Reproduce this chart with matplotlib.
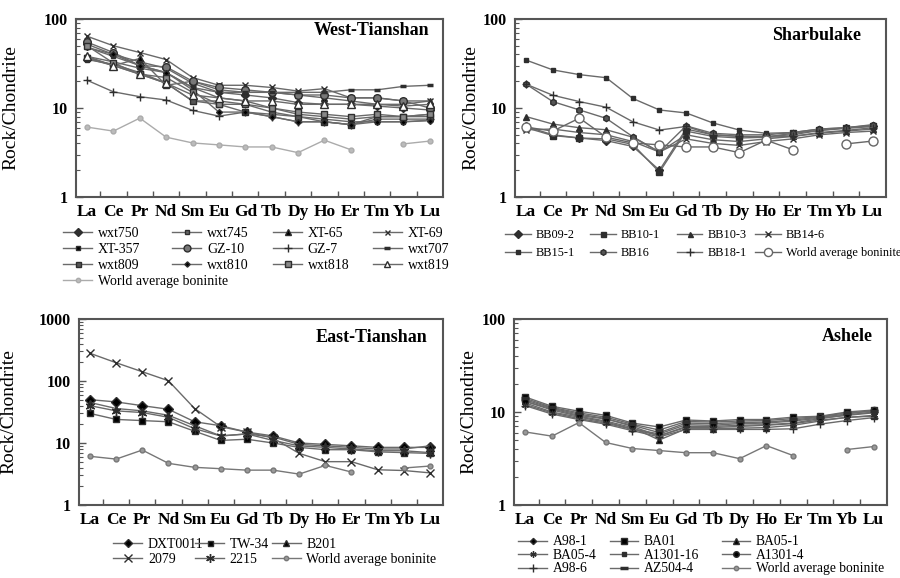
import numpy as np
import matplotlib
matplotlib.use("Agg")
import matplotlib.pyplot as plt
from matplotlib.legend import Legend
from matplotlib.ticker import LogLocator, FixedLocator, NullFormatter, FuncFormatter

# ========================
# Datos (Roca / Condrita)
# ========================

ELEMENTOS = ["La", "Ce", "Pr", "Nd", "Sm", "Eu", "Gd", "Tb", "Dy", "Ho", "Er", "Tm", "Yb", "Lu"]
BONINITA = [6.1, 5.5, 7.7, 4.7, 4.05, 3.85, 3.65, 3.65, 3.15, 4.35, 3.4, np.nan, 3.95, 4.25]

# West-Tianshan
wt_nombres = ["wxt750", "wxt745", "XT-65", "XT-69", "XT-357", "GZ-10",
              "GZ-7", "wxt707", "wxt809", "wxt810", "wxt818", "wxt819"]
wt_valores = [
    [52, 40, 33, 28, 19, 15, 14, 13, 11.5, 11, 11, 10.5, 10, 9.5],
    [48, 38, 30, 25, 17, 13, 12, 10, 8.5, 8, 7.5, 8, 8, 8.5],
    [37, 30, 36, 18, 20, 16, 15, 15, 14, 13, 12, 11, 11, 12],
    [64, 50, 42, 35, 22, 18, 18, 17, 15.5, 16.5, 13, 13, 12, 12],
    [35, 31, 25, 19, 12, 12, 11, 9, 8, 7.5, 7, 7, 7, 7.3],
    [55, 42, 30, 29, 20, 17, 16, 15, 14, 14, 13, 13, 12, 10],
    [20.5, 15.2, 13.4, 12.3, 9.4, 8.1, 9, 8, 7, 7, 6.5, 7.5, 7.5, 7.5],
    [38, 33, 28, 25, 17, 15, 15, 15, 15, 15, 16, 16, 17.5, 18],
    [36, 30, 24, 19, 12, 11, 9, 8.5, 8, 7, 6.5, 8, 8, 8],
    [48, 40, 30, 25, 16, 9, 9, 8, 7, 7, 6.5, 7, 7, 7.2],
    [50, 32, 24, 22, 15, 11, 11, 10, 9, 8.5, 8, 8.5, 8, 8.5],
    [38, 30, 24, 19, 14, 13, 12, 12, 11, 11, 11, 11, 10.5, 11],
]

# Sharbulake
sb_nombres = ["BB09-2", "BB10-1", "BB10-3", "BB14-6", "BB15-1", "BB16", "BB18-1"]
sb_valores = [
    [6.2, 5.0, 4.6, 4.3, 3.7, 2.0, 5.8, 5.0, 4.8, 4.8, 5.0, 5.6, 6.0, 6.3],
    [6.0, 4.9, 4.6, 4.5, 3.9, 1.9, 5.5, 4.8, 4.6, 4.7, 5.2, 5.6, 5.9, 6.2],
    [8.0, 6.6, 6.0, 5.7, 4.7, 3.2, 5.0, 4.4, 4.2, 4.5, 4.8, 5.2, 5.5, 5.8],
    [5.7, 5.8, 5.3, 5.0, 4.2, 3.2, 4.5, 4.0, 3.8, 4.2, 4.5, 5.0, 5.3, 5.5],
    [34.5, 26.8, 23.7, 21.9, 12.8, 9.5, 8.8, 6.8, 5.65, 5.2, 5.3, 5.8, 6.0, 6.5],
    [18.5, 11.8, 9.5, 7.65, 4.76, 3.2, 6.3, 5.2, 5.0, 5.0, 5.3, 5.8, 6.0, 6.4],
    [18.5, 13.9, 11.8, 10.2, 7.0, 5.65, 6.2, 5.0, 4.8, 4.7, 4.8, 5.3, 5.6, 6.0],
]

# East-Tianshan
et_nombres = ["DXT0011", "TW-34", "B201", "2079", "2215"]
et_valores = [
    [50, 46, 40, 35, 22, 19, 15, 13, 10, 9.5, 9, 8.5, 8.5, 8.5],
    [30, 24, 23, 22, 15.5, 11, 11.5, 10, 8.5, 7.8, 7.8, 7.2, 7.0, 6.8],
    [45, 36, 33, 28, 19, 13, 14, 12.5, 9.5, 9, 8.5, 8, 8, 9],
    [280, 197, 141, 101, 36, 18.3, 15, 12, 6.8, 5.0, 5.0, 3.7, 3.6, 3.3],
    [40, 33, 31, 26, 17, 13, 14, 11, 9, 8.5, 8, 7.5, 7.5, 7],
]

# Ashele
as_nombres = ["A98-1", "BA01", "BA05-1", "BA05-4", "A1301-16", "A1301-4", "A98-6", "AZ504-4"]
as_valores = [
    [13.5, 11, 9.5, 8.5, 7.0, 5.5, 7.0, 7.0, 7.2, 7.3, 7.6, 8.5, 9.3, 10.0],
    [14.5, 11.5, 10.2, 9.2, 7.6, 6.9, 8.2, 8.0, 8.3, 8.3, 8.8, 9.0, 10.0, 10.5],
    [13.0, 10.5, 9.0, 8.0, 6.8, 5.0, 6.6, 6.6, 6.7, 6.8, 7.2, 8.0, 8.8, 9.0],
    [12.0, 9.8, 8.5, 7.6, 6.5, 5.6, 6.8, 6.8, 7.0, 7.2, 7.5, 8.2, 8.7, 9.2],
    [12.5, 10.0, 8.8, 7.8, 6.6, 5.8, 7.3, 7.2, 7.5, 7.6, 8.0, 8.6, 9.2, 9.8],
    [13.0, 10.8, 9.2, 8.4, 7.2, 6.0, 7.6, 7.5, 7.7, 7.8, 8.2, 8.8, 9.5, 10.4],
    [11.7, 9.5, 8.3, 7.4, 6.3, 5.4, 6.5, 6.5, 6.5, 6.5, 6.6, 7.4, 8.1, 8.7],
    [14.0, 11.2, 9.8, 8.8, 7.4, 6.4, 7.9, 7.8, 8.0, 8.1, 8.5, 8.9, 9.8, 10.2],
]

# ========================
# Estilos
# ========================

SERIF = ["Liberation Serif", "DejaVu Serif"]
LINEA = "#6a6a6a"
MARCA = "#2e2e2e"
ASTER = (6, 2, 0)

wt_marcas = [("D", 4, MARCA), ("s", 3.5, "#666"), ("^", 5, "black"), ("x", 4, MARCA),
             ("s", 2.5, "black"), ("o", 5.5, "#777"), ("+", 6, MARCA), ("_", 5, "black"),
             ("s", 4, "#555"), ("D", 3, "black"), ("s", 4.5, "#888"), ("^", 5.5, "white")]
sb_marcas = [("D", 4, MARCA), ("s", 4, MARCA), ("^", 4, MARCA), ("x", 5, MARCA),
             ("s", 2.5, MARCA), ("h", 4.5, "#555"), ("+", 6, MARCA)]
et_marcas = [("D", 5, "black"), ("s", 4, "black"), ("^", 4.5, "black"),
             ("x", 6, MARCA), (ASTER, 7, MARCA)]
as_marcas = [("D", 3.5, "black"), ("s", 5, "black"), ("^", 4.5, "black"), (ASTER, 5, MARCA),
             ("s", 2.5, MARCA), ("o", 4.5, "black"), ("+", 6, MARCA), ("_", 6, "black")]


def formato_y(v, pos):
    return f"{v:g}"


def dibujar_panel(ax, titulo, nombres, valores, marcas, ymax, bon_estilo,
                  pos_titulo, xs_leyenda, y_leyenda, ncol, espacio, tam_leyenda=10):
    x = np.arange(len(ELEMENTOS))
    handles = []
    for nombre, vals, (m, ms, fc) in zip(nombres, valores, marcas):
        h, = ax.plot(x, vals, color=LINEA, lw=1.0, marker=m, ms=ms,
                     mfc=fc, mec=MARCA, mew=1.0 if m != "_" else 2.5,
                     label=nombre)
        handles.append(h)
    bcol, bm, bms, bfc = bon_estilo
    h, = ax.plot(x, BONINITA, color=bcol, lw=1.0, marker=bm, ms=bms, mfc=bfc,
                 mec=bcol, mew=1.0, label="World average boninite")
    handles.append(h)

    ax.set_yscale("log")
    ax.set_ylim(1, ymax)
    ax.set_xlim(-0.42, 13.5)
    ax.yaxis.set_major_locator(LogLocator(base=10))
    ax.yaxis.set_minor_locator(LogLocator(base=10, subs=np.arange(2, 10)))
    ax.yaxis.set_major_formatter(FuncFormatter(formato_y))
    ax.yaxis.set_minor_formatter(NullFormatter())
    ax.set_xticks(x)
    ax.set_xticklabels(ELEMENTOS, fontfamily=SERIF, fontweight="bold", fontsize=12.5)
    ax.xaxis.set_minor_locator(FixedLocator(x[:-1] + 0.5))
    ax.tick_params(axis="x", which="major", length=0, pad=5)
    ax.tick_params(axis="x", which="minor", direction="in", length=4, width=1, color="#555")
    ax.tick_params(axis="y", which="major", direction="in", length=5, width=1, color="#555",
                   labelsize=11.5, pad=6)
    ax.tick_params(axis="y", which="minor", direction="in", length=3, width=0.8, color="#555")
    for lab in ax.get_yticklabels():
        lab.set_fontfamily(SERIF)
        lab.set_fontweight("bold")
    for sp in ax.spines.values():
        sp.set_color("#555555")
        sp.set_linewidth(1.5)
    ax.set_ylabel("Rock/Chondrite", fontfamily=SERIF, fontsize=14)
    ax.text(pos_titulo[0], pos_titulo[1], titulo, transform=ax.transAxes, ha="right",
            va="center", fontfamily=SERIF, fontweight="bold", fontsize=13)

    # Leyenda: una por columna para fijar la posición de cada columna
    for j in range(ncol):
        hs = handles[j::ncol]
        leg = Legend(ax, hs, [hh.get_label() for hh in hs], loc="upper left",
                     bbox_to_anchor=(xs_leyenda[j], y_leyenda), frameon=False,
                     borderpad=0, borderaxespad=0, handlelength=2.1, handletextpad=0.4,
                     labelspacing=espacio, markerscale=0.9,
                     prop={"family": SERIF, "size": tam_leyenda})
        ax.add_artist(leg)


def main():
    fig = plt.figure(figsize=(9, 5.78), dpi=100)
    ax1 = fig.add_axes([76 / 900, 381 / 578, 367 / 900, 178 / 578])
    ax2 = fig.add_axes([515 / 900, 381 / 578, 371 / 900, 178 / 578])
    ax3 = fig.add_axes([79 / 900, 73 / 578, 364 / 900, 186 / 578])
    ax4 = fig.add_axes([514 / 900, 73 / 578, 373 / 900, 186 / 578])

    dibujar_panel(ax1, "West-Tianshan", wt_nombres, wt_valores, wt_marcas, 100,
                  ("#ababab", "o", 3.5, "#bbbbbb"), (0.962, 0.933),
                  [-0.035, 0.262, 0.537, 0.809], -0.167, 4, 0.22)
    dibujar_panel(ax2, "Sharbulake", sb_nombres, sb_valores, sb_marcas, 100,
                  ("#666666", "o", 6.5, "white"), (0.933, 0.905),
                  [-0.027, 0.202, 0.436, 0.647], -0.18, 4, 0.5, tam_leyenda=8.8)
    dibujar_panel(ax3, "East-Tianshan", et_nombres, et_valores, et_marcas, 1000,
                  ("#777777", "o", 3.5, "#999999"), (0.956, 0.90),
                  [0.094, 0.319, 0.529], -0.175, 3, 0.18)
    dibujar_panel(ax4, "Ashele", as_nombres, as_valores, as_marcas, 100,
                  ("#777777", "o", 3.5, "#999999"), (0.962, 0.905),
                  [0.012, 0.257, 0.557], -0.163, 3, 0.04, tam_leyenda=9.8)

    ax1.yaxis.set_label_coords(-0.153, 0.5)
    ax2.yaxis.set_label_coords(-0.097, 0.5)
    ax3.yaxis.set_label_coords(-0.168, 0.5)
    ax4.yaxis.set_label_coords(-0.097, 0.5)

    fig.savefig("out.png", dpi=100)
    plt.close(fig)


if __name__ == "__main__":
    main()
